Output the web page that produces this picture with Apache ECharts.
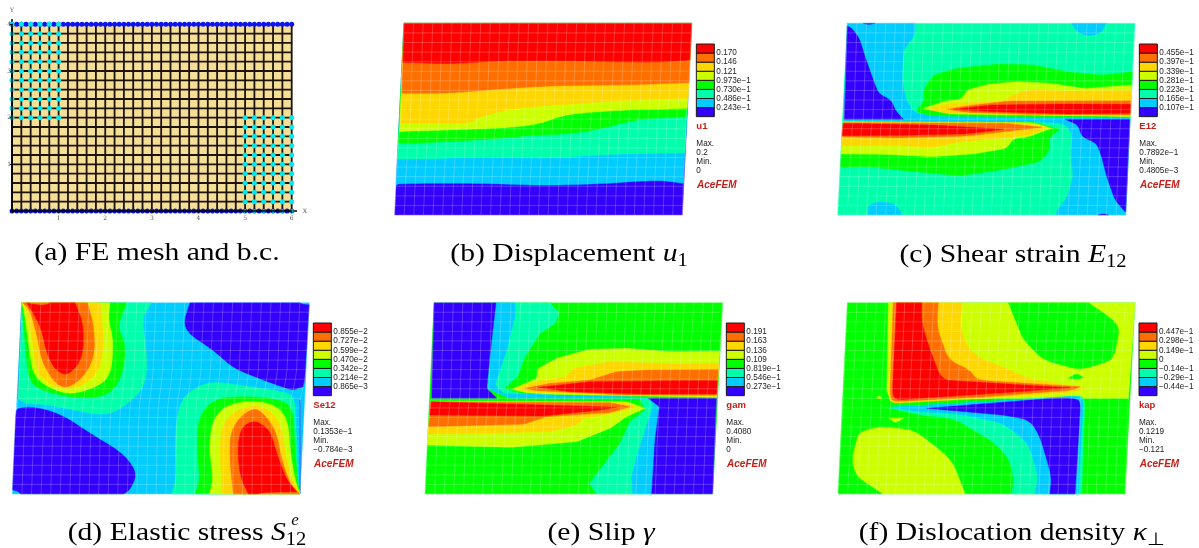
<!DOCTYPE html>
<html><head><meta charset="utf-8">
<script src="https://cdn.jsdelivr.net/npm/echarts@6/dist/echarts.min.js"></script>
<style>html,body{margin:0;padding:0;background:#fff}#c{width:1199px;height:548px}
canvas[data-zr-dom-id="zr_0"]{filter:blur(0.45px)}</style></head><body><div id="c"></div>
<script>
// ---------- categories / tick labels ----------
const meshTicksX = [0,1,2,3,4,5,6];
const meshTicksY = [0,1,2,3,4];
const meshCols = 30, meshRows = 20;

// ---------- legend tick labels, field names, extremes ----------
const legendB = ['0.170','0.146','0.121','0.973e−1','0.730e−1','0.486e−1','0.243e−1'];
const legendC = ['0.455e−1','0.397e−1','0.339e−1','0.281e−1','0.223e−1','0.165e−1','0.107e−1'];
const legendD = ['0.855e−2','0.727e−2','0.599e−2','0.470e−2','0.342e−2','0.214e−2','0.865e−3'];
const legendE = ['0.191','0.163','0.136','0.109','0.819e−1','0.546e−1','0.273e−1'];
const legendF = ['0.447e−1','0.298e−1','0.149e−1','0','−0.14e−1','−0.29e−1','−0.44e−1'];
const statsB = ['u1','Max.','0.2','Min.','0'];
const statsC = ['E12','Max.','0.7892e−1','Min.','0.4805e−3'];
const statsD = ['Se12','Max.','0.1353e−1','Min.','−0.784e−3'];
const statsE = ['gam','Max.','0.4080','Min.','0'];
const statsF = ['kap','Max.','0.1219','Min.','−0.121'];

// ---------- deformed body outlines: [y, x] ----------
const leftB = [[40,72],[155,68],[250,65],[340,62],[380,56],[520,48],[615,44]];
const rightB = [[40,935],[150,930],[265,925],[320,918],[430,915],[520,910],[615,907]];
const leftC = [[40,142],[325,133],[345,128],[615,113]];
const rightC = [[40,1005],[325,990],[615,977]];
const leftD = [[38,65],[320,55],[350,50],[400,45],[612,37]];
const rightD = [[38,928],[250,918],[300,908],[330,900],[612,900]];
const leftE = [[38,72],[320,65],[340,62],[450,52],[612,45]];
const rightE = [[38,938],[320,920],[612,908]];
const leftF = [[38,82],[320,70],[612,54]];
const rightF = [[38,945],[320,925],[612,915]];

// ---------- contour bands: [contour level, boundary] painted in order ----------
const bandsB = [
 [0,[[0,0],[1200,0],[1200,700],[0,700]]],
 [1,[[0,525],[100,520],[300,520],[500,526],[650,522],[800,512],[850,512],[910,520],[1200,520],[1200,0],[0,0]]],
 [2,[[0,447],[150,447],[300,440],[500,445],[700,432],[1200,428],[1200,0],[0,0]]],
 [3,[[0,398],[100,400],[300,390],[470,375],[560,372],[650,360],[780,325],[1200,320],[1200,0],[0,0]]],
 [4,[[0,365],[150,362],[350,355],[470,345],[550,315],[650,305],[780,298],[1200,295],[1200,0],[0,0]]],
 [5,[[0,340],[270,340],[300,320],[400,295],[600,280],[750,270],[1200,265],[1200,0],[0,0]]],
 [6,[[0,250],[200,250],[350,238],[500,228],[700,225],[1200,218],[1200,0],[0,0]]],
 [7,[[0,155],[100,158],[220,162],[350,152],[550,152],[780,157],[1200,150],[1200,0],[0,0]]]
];
const bandsC = [
 [2,[[0,0],[1200,0],[1200,700],[0,700]]],
 [1,[[0,40],[345,40],[345,75],[310,120],[306,210],[318,270],[345,310],[420,318],[800,322],[1200,322],[1200,615],[770,615],[770,600],[800,565],[820,500],[812,440],[815,365],[790,340],[700,335],[400,333],[0,333]]],
 [1,[[815,40],[830,65],[860,78],[900,72],[920,40]]],
 [1,[[205,615],[205,585],[235,575],[280,580],[300,600],[305,615]]],
 [0,[[190,40],[205,44],[225,40]]],
 [0,[[895,615],[910,611],[925,615]]],
 [0,[[0,48],[150,48],[178,85],[195,140],[218,205],[235,250],[275,272],[285,300],[310,328],[0,328]]],
 [0,[[795,328],[835,345],[845,380],[890,400],[905,440],[920,500],[945,570],[975,605],[1200,605],[1200,328]]],
 [3,[[345,305],[375,270],[370,240],[400,195],[470,175],[600,162],[700,165],[800,185],[900,195],[1200,185],[1200,320],[800,322],[400,318]]],
 [4,[[370,295],[440,272],[485,268],[500,240],[570,222],[650,215],[750,220],[850,235],[1200,225],[1200,320],[900,318],[450,312]]],
 [5,[[380,298],[450,280],[600,275],[650,250],[700,238],[800,243],[1200,240],[1200,318],[800,316],[450,310]]],
 [6,[[440,298],[520,285],[630,273],[1200,272],[1200,315],[700,313],[500,307]]],
 [7,[[460,298],[570,285],[800,282],[1200,283],[1200,310],[800,312],[580,305]]],
 [3,[[0,333],[700,336],[780,358],[745,385],[750,420],[720,455],[600,480],[480,497],[350,485],[200,470],[0,472]]],
 [4,[[0,335],[700,338],[755,355],[680,382],[640,385],[620,415],[520,432],[400,440],[250,433],[0,432]]],
 [5,[[0,337],[660,338],[745,352],[700,372],[600,385],[480,395],[400,412],[250,405],[0,408]]],
 [6,[[0,338],[620,340],[725,352],[640,362],[500,378],[300,384],[0,380]]],
 [7,[[0,340],[400,345],[610,358],[500,372],[300,376],[0,377]]]
];
const bandsD = [
 [1,[[0,0],[1200,0],[1200,700],[0,700]]],
 [0,[[570,38],[550,100],[570,135],[640,180],[700,235],[790,270],[880,303],[900,290],[1200,270],[1200,45],[910,45],[900,38]]],
 [0,[[0,380],[75,345],[180,370],[270,430],[370,490],[412,550],[390,600],[370,612],[62,612],[50,600],[0,600]]],
 [0,[[0,50],[65,50],[68,70],[62,325],[0,325]]],
 [0,[[902,330],[1200,330],[1200,612],[900,612]]],
 [2,[[65,38],[455,38],[425,85],[440,180],[440,260],[420,310],[350,365],[300,375],[220,360],[150,345],[75,340],[52,325],[62,100]]],
 [3,[[65,38],[380,38],[352,110],[375,160],[375,210],[360,270],[330,310],[280,325],[200,320],[120,300],[85,270],[70,100]]],
 [4,[[65,38],[330,38],[325,90],[340,150],[335,240],[310,280],[250,305],[200,312],[140,290],[100,255],[88,180],[72,60]]],
 [5,[[65,38],[300,38],[305,90],[310,150],[305,210],[290,250],[250,285],[200,300],[150,285],[110,245],[100,170],[80,60]]],
 [6,[[68,38],[262,38],[280,100],[285,180],[270,230],[240,270],[200,295],[165,280],[125,215],[112,140],[90,60]]],
 [7,[[80,38],[110,45],[140,45],[150,38],[225,38],[250,100],[250,180],[235,225],[200,257],[165,240],[140,190],[125,120],[100,70]]],
 [2,[[515,612],[530,560],[525,480],[530,380],[550,320],[600,285],[650,275],[750,290],[850,305],[885,320],[895,590],[900,612]]],
 [3,[[585,612],[600,570],[590,470],[595,390],[625,340],[680,320],[780,320],[860,335],[880,370],[885,480],[895,590],[900,612]]],
 [4,[[628,612],[640,570],[628,480],[635,400],[665,355],[720,335],[790,335],[840,355],[865,400],[870,480],[885,570],[900,612]]],
 [5,[[665,612],[665,570],[660,480],[665,410],[700,365],[760,345],[810,360],[845,410],[855,490],[875,570],[900,612]]],
 [6,[[700,612],[690,520],[690,430],[720,380],[765,352],[800,380],[830,430],[845,510],[870,580],[900,612]]],
 [7,[[745,612],[720,560],[712,470],[725,410],[765,390],[810,420],[830,490],[860,570],[890,605],[850,606],[800,607],[770,612]]]
];
const bandsE = [
 [3,[[0,0],[1200,0],[1200,700],[0,700]]],
 [2,[[258,38],[420,38],[448,70],[435,100],[390,130],[345,200],[322,260],[282,295],[330,310],[690,325],[705,360],[660,395],[630,460],[538,580],[560,612],[725,612],[748,355],[715,325],[300,322],[232,295],[245,150]]],
 [1,[[258,38],[315,38],[315,80],[290,180],[255,285],[280,310],[710,322],[730,345],[712,400],[680,500],[665,560],[668,612],[725,612],[748,355],[715,325],[300,325],[232,295],[245,150]]],
 [0,[[0,38],[258,38],[245,150],[230,295],[260,325],[0,325]]],
 [0,[[715,325],[748,350],[735,450],[725,612],[1200,612],[1200,325]]],
 [4,[[0,333],[650,335],[705,355],[650,380],[600,415],[500,455],[300,472],[50,465],[0,465]]],
 [5,[[0,335],[640,338],[680,352],[610,370],[520,385],[500,405],[420,425],[200,430],[0,432]]],
 [6,[[0,335],[600,338],[660,350],[600,368],[410,380],[340,403],[0,410]]],
 [7,[[0,335],[300,342],[620,352],[570,360],[400,378],[0,375]]],
 [4,[[305,298],[380,265],[385,235],[440,205],[540,178],[650,175],[780,185],[1200,183],[1200,322],[700,318],[400,312],[350,308]]],
 [5,[[315,296],[380,275],[470,260],[490,235],[600,215],[800,222],[1200,220],[1200,318],[700,316],[360,306]]],
 [6,[[345,295],[420,280],[540,270],[620,245],[720,240],[1200,238],[1200,316],[650,315],[380,302]]],
 [7,[[385,292],[450,285],[540,275],[800,272],[1200,272],[1200,312],[700,312],[480,305]]]
];
const bandsF = [
 [3,[[0,0],[1200,0],[1200,700],[0,700]]],
 [4,[[205,38],[1200,38],[1200,325],[200,325]]],
 [3,[[565,38],[590,100],[610,150],[670,210],[780,240],[880,210],[900,110],[860,75],[805,38]]],
 [3,[[745,265],[770,250],[790,262],[775,268]]],
 [5,[[215,38],[428,38],[418,100],[440,170],[480,205],[560,235],[620,265],[795,293],[770,305],[500,325],[215,340],[205,320]]],
 [6,[[220,38],[355,38],[350,110],[385,210],[450,240],[470,270],[780,290],[760,300],[500,320],[220,335],[210,320]]],
 [7,[[230,38],[305,38],[305,100],[330,180],[365,270],[750,293],[600,305],[230,330],[217,315]]],
 [4,[[210,385],[250,385],[225,400]]],
 [4,[[170,325],[178,315],[185,326]]],
 [2,[[200,352],[700,325],[775,316],[795,325],[785,612],[575,612],[582,570],[570,510],[520,455],[400,385],[300,375]]],
 [1,[[205,352],[700,322],[775,318],[790,330],[775,612],[645,612],[655,560],[625,460],[550,400],[420,372],[300,365]]],
 [0,[[320,355],[700,325],[770,325],[782,340],[765,612],[690,612],[695,560],[660,440],[630,390],[550,375]]],
 [4,[[120,425],[180,410],[280,420],[360,480],[400,520],[435,612],[190,612],[110,560],[95,510],[110,450]]]
];

// ---------- styles and layout (kept apart from the data) ----------
const levelColors = ['#3300ff','#00ccff','#00ffaa','#00ff00','#ccff00','#ffd700','#ff6f00','#ff0000'];
const panels = [
 {o:[380,10], size:[400,260], bands:bandsB, left:leftB, right:rightB, top:40, bot:615, bar:[949,102], legend:legendB, stats:statsB, round:60},
 {o:[800,10], size:[399,260], bands:bandsC, left:leftC, right:rightC, top:40, bot:615, bar:[1018,102], legend:legendC, stats:statsC, round:16},
 {o:[0,290], size:[380,258], bands:bandsD, left:leftD, right:rightD, top:38, bot:612, bar:[940,99], legend:legendD, stats:statsD, round:50},
 {o:[410,290], size:[380,258], bands:bandsE, left:leftE, right:rightE, top:38, bot:612, bar:[949,99], legend:legendE, stats:statsE, round:6},
 {o:[820,290], size:[379,258], bands:bandsF, left:leftF, right:rightF, top:38, bot:612, bar:[957,99], legend:legendF, stats:statsF, round:30}
];
const sansFont = '"Liberation Sans",Arial,sans-serif';
const serifFont = '"Liberation Serif",serif';

function edgeAt(edge, y){
  if (y <= edge[0][0]) return edge[0][1];
  for (let k = 1; k < edge.length; k++) {
    if (y <= edge[k][0]) {
      const t = (y - edge[k-1][0]) / (edge[k][0] - edge[k-1][0]);
      return edge[k-1][1] + t * (edge[k][1] - edge[k-1][1]);
    }
  }
  return edge[edge.length-1][1];
}
// Rounds the drawn corners of a band boundary; corners on the body outline and sharp tips stay as they are.
function roundRing(ring, P){
  const out=[], n=ring.length;
  for (let i=0;i<n;i++){
    const p=ring[i], a=ring[(i+n-1)%n], b=ring[(i+1)%n];
    const pinned = p[1]<=P.top || p[1]>=P.bot || p[0]<=edgeAt(P.left,p[1])+3 || p[0]>=edgeAt(P.right,p[1])-3;
    const ax=a[0]-p[0], ay=a[1]-p[1], bx=b[0]-p[0], by=b[1]-p[1];
    const la=Math.hypot(ax,ay), lb=Math.hypot(bx,by);
    const cos=(ax*bx+ay*by)/(la*lb||1);
    if (pinned || cos>0.55) { out.push(p); continue; }
    const ra=Math.min(P.round,la*0.45), rb=Math.min(P.round,lb*0.45);
    const s=[p[0]+ax/la*ra,p[1]+ay/la*ra], e=[p[0]+bx/lb*rb,p[1]+by/lb*rb];
    for (let k=0;k<=5;k++){ const t=k/5, u=1-t;
      out.push([u*u*s[0]+2*u*t*p[0]+t*t*e[0], u*u*s[1]+2*u*t*p[1]+t*t*e[1]]); }
  }
  return out;
}

const grids = [], xAxes = [], yAxes = [], series = [], graphics = [];

// ---- panel (a): FE mesh with real axes ----
grids.push({left:12, top:24.3, width:279.7, height:186.7});
const tickLabelStyle = {fontFamily:'"DejaVu Serif",serif', fontSize:6, color:'#555'};
xAxes.push({gridIndex:0, type:'value', min:0, max:6, interval:1, z:10, splitLine:{show:false},
  axisLine:{onZero:false, lineStyle:{color:'#000',width:1.5}}, axisTick:{show:true,length:2,inside:false,lineStyle:{color:'#000'}},
  axisLabel:{...tickLabelStyle, margin:4, formatter:v=>v===0?'':String(v)}});
yAxes.push({gridIndex:0, type:'value', min:0, max:4, interval:1, z:10, splitLine:{show:false},
  axisLine:{onZero:false, lineStyle:{color:'#000',width:1.5}}, axisTick:{show:true,length:2,lineStyle:{color:'#000'}},
  axisLabel:{...tickLabelStyle, margin:1, formatter:v=>v===0?'':String(v)}});
const meshStepX = meshTicksX[meshTicksX.length-1]/meshCols, meshStepY = meshTicksY[meshTicksY.length-1]/meshRows;
const meshASegs = [];
for (let i=0;i<=meshCols;i++) meshASegs.push([i*meshStepX,0,i*meshStepX,4]);
for (let j=0;j<=meshRows;j++) meshASegs.push([0,j*meshStepY,6,j*meshStepY]);
series.push({type:'custom', xAxisIndex:0, yAxisIndex:0, silent:true, clip:false, z:1, data:[[0,0]],
  renderItem:(p,api)=>{ const a=api.coord([0,0]), b=api.coord([6,4]);
    return {type:'rect', shape:{x:a[0],y:b[1],width:b[0]-a[0],height:a[1]-b[1]}, style:{fill:'#f5de96'}}; }});
series.push({type:'custom', xAxisIndex:0, yAxisIndex:0, silent:true, clip:false, z:2, data:meshASegs,
  renderItem:(p,api)=>{ const a=api.coord([api.value(0),api.value(1)]), b=api.coord([api.value(2),api.value(3)]);
    return {type:'line', shape:{x1:a[0],y1:a[1],x2:b[0],y2:b[1]}, style:{stroke:'#1c1206',lineWidth:1.8}}; },
  encode:{x:0,y:1}});
const nodeRange=(x0,x1,y0,y1,nx,ny)=>{const r=[];for(let i=0;i<=nx;i++)for(let j=0;j<=ny;j++)r.push([x0+(x1-x0)*i/(nx||1),y0+(y1-y0)*j/(ny||1)]);return r;};
const sc=(data,color,size,z)=>({type:'scatter',xAxisIndex:0,yAxisIndex:0,silent:true,clip:false,z,data,symbolSize:size,itemStyle:{color,opacity:1}});
series.push(sc(nodeRange(0,6,4,4,60,0),'#0a14f5',5,3));
series.push(sc(nodeRange(0,6,0,0,60,0),'#0a14c8',5,3));
series.push(sc(nodeRange(0,1,2,4,5,10),'#00e8f0',5,4));
series.push(sc(nodeRange(5,6,0.2,2,5,9),'#00e8f0',5,4));
series.push(sc(nodeRange(5,6,0,0,5,0),'#00c8d8',4,4));
graphics.push({type:'line',shape:{x1:12,y1:19,x2:12,y2:25},style:{stroke:'#000',lineWidth:1.5}});
graphics.push({type:'line',shape:{x1:291,y1:211,x2:297,y2:211},style:{stroke:'#000',lineWidth:1.5}});
graphics.push({type:'text',x:12,y:10,style:{text:'Y',font:'6px "DejaVu Serif",serif',fill:'#555',align:'center',verticalAlign:'middle'}});
graphics.push({type:'text',x:305,y:211,style:{text:'X',font:'6px "DejaVu Serif",serif',fill:'#555',align:'center',verticalAlign:'middle'}});

// ---- panels (b)-(f): contour plots ----
panels.forEach((P,idx)=>{
  const g = idx+1;
  grids.push({left:P.o[0], top:P.o[1], width:P.size[0], height:P.size[1]});
  xAxes.push({gridIndex:g, type:'value', min:0, max:P.size[0]*3, show:false});
  yAxes.push({gridIndex:g, type:'value', min:0, max:P.size[1]*3, inverse:true, show:false});
  const clampPt = pt => { const y=Math.min(P.bot,Math.max(P.top,pt[1]));
    const l=edgeAt(P.left,y), r=edgeAt(P.right,y);
    return [Math.min(r,Math.max(l,pt[0])), y]; };
  series.push({type:'custom', xAxisIndex:g, yAxisIndex:g, silent:true, clip:false, z:1,
    data:P.bands.map((b,i)=>[b[1][0][0],b[1][0][1],i]), encode:{x:0,y:1},
    renderItem:(p,api)=>{ const b=P.bands[api.value(2)];
      return {type:'polygon', shape:{points:roundRing(b[1],P).map(clampPt).map(q=>api.coord(q))},
        style:{fill:levelColors[b[0]], stroke:levelColors[b[0]], lineWidth:0.4}}; }});
  // faint white element lines following the deformed outline
  const lines=[];
  for (let i=0;i<=meshCols;i++) lines.push([0,i]);
  for (let j=0;j<=meshRows;j++) lines.push([1,j]);
  const node=(i,j)=>{const y=P.top+(P.bot-P.top)*j/meshRows, l=edgeAt(P.left,y), r=edgeAt(P.right,y); return [l+(r-l)*i/meshCols,y];};
  series.push({type:'custom', xAxisIndex:g, yAxisIndex:g, silent:true, clip:false, z:2,
    data:lines.map(l=>[P.left[0][1],P.top,l[0],l[1]]), encode:{x:0,y:1},
    renderItem:(p,api)=>{ const kind=api.value(2), n=api.value(3), pts=[];
      if(kind===0){ for(let j=0;j<=meshRows;j++) pts.push(api.coord(node(n,j))); }
      else { for(let i=0;i<=meshCols;i++) pts.push(api.coord(node(i,n))); }
      return {type:'polyline', shape:{points:pts}, style:{stroke:'#fff',opacity:0.24,lineWidth:0.9,fill:null}}; }});
  // colour key
  const cell=27.25, barW=54;
  series.push({type:'custom', xAxisIndex:g, yAxisIndex:g, silent:true, clip:false, z:3,
    data:levelColors.map((c,i)=>[P.bar[0],P.bar[1]+cell*(7-i),i]), encode:{x:0,y:1},
    renderItem:(p,api)=>{ const a=api.coord([api.value(0),api.value(1)]), b=api.coord([api.value(0)+barW,api.value(1)+cell]);
      return {type:'rect', shape:{x:a[0],y:a[1],width:b[0]-a[0],height:b[1]-a[1]},
        style:{fill:levelColors[api.value(2)], stroke:'#1a1a1a', lineWidth:1}}; }});
  const bx=P.o[0]+P.bar[0]/3, by=P.o[1]+P.bar[1]/3, c=cell/3;
  P.legend.forEach((t,i)=>graphics.push({type:'text',x:bx+barW/3+2,y:by+c*(i+1),
    style:{text:t,font:'8.2px '+sansFont,fill:'#222',verticalAlign:'middle'}}));
  graphics.push({type:'text',x:bx,y:by+82.5,style:{text:P.stats[0],font:'bold 9.5px '+sansFont,fill:'#c4201a',verticalAlign:'middle'}});
  [1,2,3,4].forEach(k=>graphics.push({type:'text',x:bx,y:by+90.5+k*9,style:{text:P.stats[k],font:'8.2px '+sansFont,fill:'#222',verticalAlign:'middle'}}));
  graphics.push({type:'text',x:bx+0.7,y:by+141,style:{text:'AceFEM',font:'italic bold 10px '+sansFont,fill:'#c4201a',verticalAlign:'middle'}});
});

// ---- captions, on their own crisp layer ----
const capRich = {
  r:{fontFamily:serifFont,fontSize:26,color:'#111'},
  i:{fontFamily:serifFont,fontStyle:'italic',fontSize:26,color:'#111'},
  s:{fontFamily:serifFont,fontSize:18,color:'#111',padding:[15,0,0,0],verticalAlign:'bottom'}
};
const captions = [
 [157,253,'{r|(a) FE mesh and b.c.}'],
 [569,254,'{r|(b) Displacement }{i|u}{s|1}'],
 [1013,255,'{r|(c) Shear strain }{i|E}{s|12}'],
 [187,533,'{r|(d) Elastic stress }{i|S}{s|12}'],
 [601,533,'{r|(e) Slip }{i|γ}'],
 [1012,533,'{r|(f) Dislocation density }{i|κ}{s|⊥}']
];
captions.forEach(c=>graphics.push({type:'text',zlevel:1,x:c[0],y:c[1],scaleX:1.14,
  style:{text:c[2],rich:capRich,align:'center',verticalAlign:'middle'}}));
graphics.push({type:'text',zlevel:1,x:295,y:521,style:{text:'e',font:'italic 17px '+serifFont,fill:'#111',align:'center',verticalAlign:'middle'}});

const chart = echarts.init(document.getElementById('c'),null,{renderer:'canvas'});
chart.setOption({animation:false, backgroundColor:'#fff', tooltip:{show:false},
  grid:grids, xAxis:xAxes, yAxis:yAxes, series, graphic:{elements:graphics}});
</script></body></html>
